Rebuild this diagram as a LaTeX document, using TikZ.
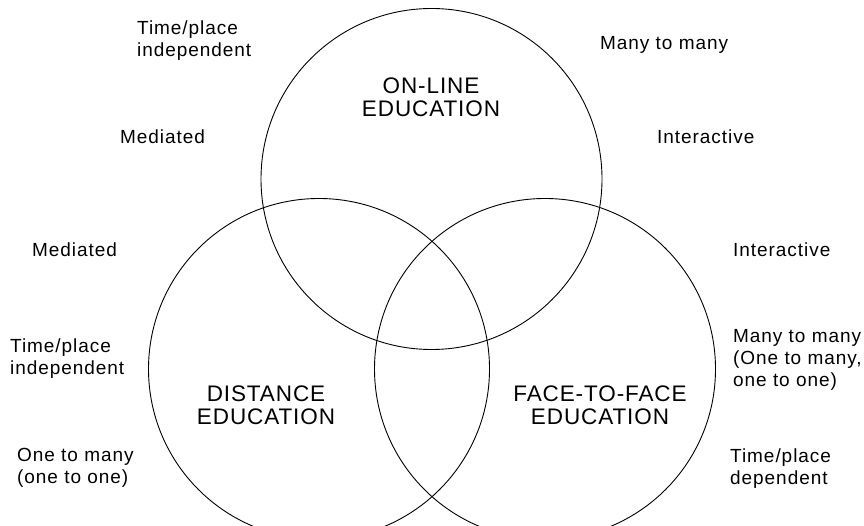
\documentclass[tikz,border=0pt]{standalone}
\usepackage{fontspec}
\setmainfont{Liberation Sans}
\newfontfamily\notefont[LetterSpace=5]{Liberation Sans}
\newfontfamily\titlefont[LetterSpace=4]{Liberation Sans}

\begin{document}
\begin{tikzpicture}[x=1pt, y=-1pt,
  ring/.style={circle, draw, line width=0.9pt, minimum size=341pt, inner sep=0pt},
  note/.style={anchor=west, align=left, inner sep=0pt, font=\notefont\fontsize{19}{22}\selectfont},
  title/.style={align=center, inner sep=0pt, font=\titlefont\fontsize{22.5}{23}\selectfont}]
\useasboundingbox (0,0) rectangle (864,526);
\clip (0,0) rectangle (864,526);
% the three circles
\node[ring] (online) at (431.5,179) {};
\node[ring] (distance) at (319,369) {};
\node[ring] (f2f) at (545,369) {};
% circle titles
\node[title] (onlinelab) at (431,97) {ON-LINE\\EDUCATION};
\node[title] (distlab) at (266,405) {DISTANCE\\EDUCATION};
\node[title] (f2flab) at (600,405) {FACE-TO-FACE\\EDUCATION};
% notes round the on-line circle
\node[note] (tl1) at (137,41) {Time/place\\independent};
\node[note] (tl2) at (120,137) {Mediated};
\node[note] (tr1) at (600,45) {Many to many};
\node[note] (tr2) at (657,137) {Interactive};
% notes left of distance
\node[note] (l1) at (32,250) {Mediated};
\node[note] (l2) at (10,359) {Time/place\\independent};
\node[note] (l3) at (17,468) {One to many\\(one to one)};
% notes right of face-to-face
\node[note] (r1) at (733,250) {Interactive};
\node[note] (r2) at (733,360) {Many to many\\(One to many,\\one to one)};
\node[note] (r3) at (730,469) {Time/place\\dependent};
\end{tikzpicture}
\end{document}
